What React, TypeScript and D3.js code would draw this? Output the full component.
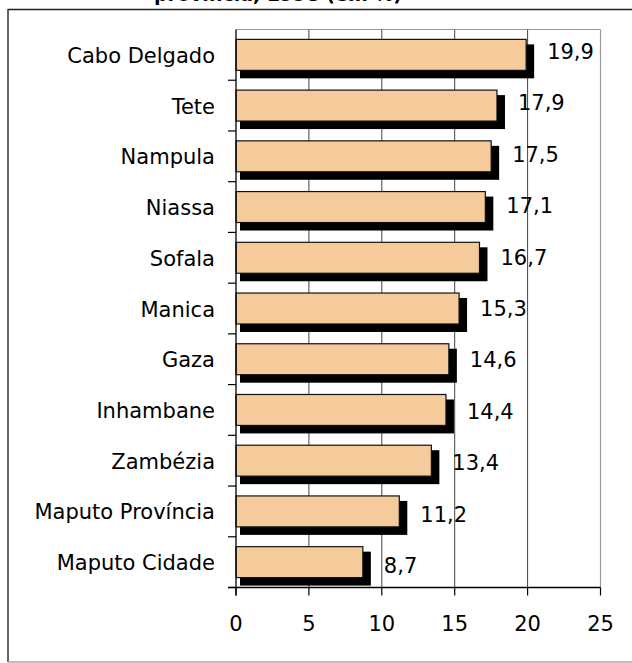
import React from "react";
import * as d3 from "d3";

const categories = [
  "Cabo Delgado",
  "Tete",
  "Nampula",
  "Niassa",
  "Sofala",
  "Manica",
  "Gaza",
  "Inhambane",
  "Zambézia",
  "Maputo Província",
  "Maputo Cidade",
];
const values = [19.9, 17.9, 17.5, 17.1, 16.7, 15.3, 14.6, 14.4, 13.4, 11.2, 8.7];
const valueLabels = ["19,9", "17,9", "17,5", "17,1", "16,7", "15,3", "14,6", "14,4", "13,4", "11,2", "8,7"];
const xTicks = [0, 5, 10, 15, 20, 25];
const titleText = "província, 1998 (em %)";

const W = 632;
const H = 663;
const FONT = "'DejaVu Sans', Verdana, sans-serif";

export default function App() {
  const left = 236;
  const right = 600.5;
  const top = 29.5;
  const bottom = 587.5;

  const x = d3.scaleLinear().domain([0, 25]).range([left, right]);
  const y = d3
    .scaleBand<string>()
    .domain(categories)
    .range([top, bottom])
    .paddingInner(0.39)
    .paddingOuter(0.195);
  const step = y.step();
  const labelY = d3.scalePoint<string>().domain(categories).range([52, 566]);

  const data = categories.map((c, i) => ({ c, v: values[i], l: valueLabels[i] }));

  return (
    <svg
      width={W}
      height={H}
      style={{ position: "absolute", left: 0, top: 0, display: "block" }}
    >
      <rect x={0} y={0} width={W} height={H} fill="#fff" />
      {/* title (clipped at top) */}
      <text
        x={278}
        y={1}
        textAnchor="middle"
        fontFamily={FONT}
        fontWeight="bold"
        fontSize={19}
        fill="#000"
      >
        {titleText}
      </text>
      {/* outer frame */}
      <line x1={8} y1={9.5} x2={W} y2={9.5} stroke="#222" strokeWidth={1.5} />
      <line x1={8} y1={9} x2={8} y2={662} stroke="#333" strokeWidth={1.5} />
      <line x1={8} y1={662} x2={W} y2={662} stroke="#aaa" strokeWidth={1.5} />

      {/* plot border top/right */}
      <line x1={left} y1={top} x2={right} y2={top} stroke="#999" strokeWidth={1.2} />
      <line x1={right} y1={top} x2={right} y2={bottom} stroke="#999" strokeWidth={1.2} />

      {/* gridlines */}
      {xTicks
        .filter((t) => t > 0 && t < 25)
        .map((t) => (
          <line key={t} x1={x(t)} x2={x(t)} y1={top} y2={bottom} stroke="#444" strokeWidth={1} />
        ))}

      {/* bars */}
      {data.map((d) => {
        const by = y(d.c)!;
        const bh = y.bandwidth();
        return (
          <g key={d.c}>
            <rect
              x={left + 4}
              y={by + 5}
              width={x(d.v) + 8 - (left + 4)}
              height={bh + 3}
              fill="#000"
            />
            <rect
              x={left}
              y={by}
              width={x(d.v) - left}
              height={bh}
              fill="#F6CB9B"
              stroke="#111"
              strokeWidth={1.2}
            />
          </g>
        );
      })}

      {/* axes */}
      <line x1={left} y1={top} x2={left} y2={bottom + 8} stroke="#000" strokeWidth={1.3} />
      <line x1={left - 8} y1={bottom} x2={right} y2={bottom} stroke="#000" strokeWidth={1.3} />
      {d3.range(categories.length).map((i) => (
        <line
          key={i}
          x1={left - 8}
          x2={left}
          y1={top + step * (i + 1)}
          y2={top + step * (i + 1)}
          stroke="#000"
          strokeWidth={1.2}
        />
      ))}
      {xTicks.map((t) => (
        <g key={t}>
          <line x1={x(t)} x2={x(t)} y1={bottom} y2={bottom + 8} stroke="#000" strokeWidth={1.2} />
          <text
            x={x(t)}
            y={631}
            textAnchor="middle"
            fontFamily={FONT}
            fontSize={21}
            fill="#000"
          >
            {t}
          </text>
        </g>
      ))}

      {/* category labels */}
      {data.map((d) => (
        <text
          key={d.c}
          x={215}
          y={y(d.c)! + y.bandwidth() / 2 + 1}
          textAnchor="end"
          dominantBaseline="central"
          fontFamily={FONT}
          fontSize={21}
          fill="#000"
        >
          {d.c}
        </text>
      ))}

      {/* value labels */}
      {data.map((d) => (
        <text
          key={d.c}
          x={x(d.v) + 21}
          y={labelY(d.c)!}
          dominantBaseline="central"
          fontFamily={FONT}
          fontSize={21}
          fill="#000"
        >
          {d.l}
        </text>
      ))}
    </svg>
  );
}
